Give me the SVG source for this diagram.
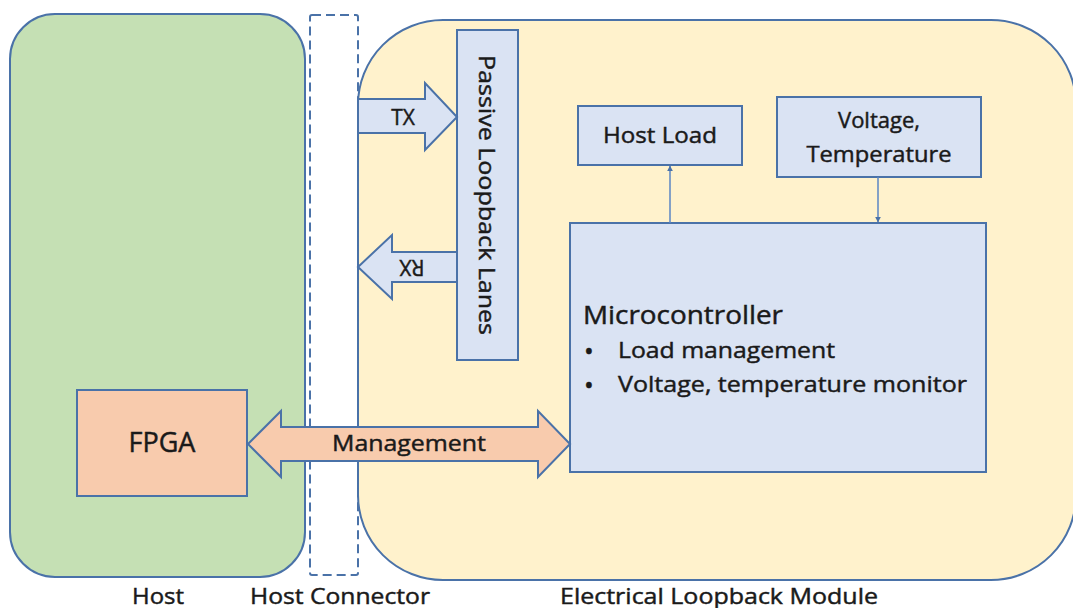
<svg xmlns="http://www.w3.org/2000/svg" width="1073" height="608" viewBox="0 0 1073 608">
<style>
.o{stroke:#4a72a8;stroke-width:2}
.blue{fill:#dae3f3}
.t{font-family:"Open Sans","Liberation Sans",sans-serif;fill:#1a1a1a;stroke:#1a1a1a;stroke-width:0.45}
.ln{stroke:#5b86c4;stroke-width:1.5;fill:none}
</style>
<defs>
<marker id="ah" viewBox="0 0 10 10" refX="9" refY="5" markerWidth="6" markerHeight="6" orient="auto-start-reverse" markerUnits="userSpaceOnUse">
<path d="M0,0L10,5L0,10z" fill="#4a72a8"/>
</marker>
</defs>
<rect width="1073" height="608" fill="#ffffff"/>
<g id="host">
<rect x="10" y="14" width="295" height="563" rx="45" fill="#c5e0b4" class="o"/>
</g>
<g id="module">
<rect x="358" y="20" width="718" height="560" rx="85" fill="#fff2cc" class="o"/>
</g>
<g id="host-connector">
<rect x="310" y="15" width="48" height="560" rx="2" fill="none" stroke="#4a72a8" stroke-width="2" stroke-dasharray="9,5"/>
</g>
<g id="passive-lanes">
<rect x="457" y="30" width="61" height="330" class="o blue"/>
<text class="t" font-size="22" transform="translate(479,195) rotate(90)" text-anchor="middle" textLength="280" lengthAdjust="spacingAndGlyphs">Passive Loopback Lanes</text>
</g>
<g id="tx">
<path d="M358,99H425V83L457,117L425,150V133H358Z" class="o blue"/>
<text class="t" font-size="21" x="403" y="125" text-anchor="middle">TX</text>
</g>
<g id="rx">
<path d="M457,252H392V235L358,267L392,299V282H457Z" class="o blue"/>
<text class="t" font-size="21" transform="translate(412,267) rotate(180)" text-anchor="middle" y="7.5">RX</text>
</g>
<g id="host-load">
<rect x="578" y="106" width="164" height="59" class="o blue"/>
<text class="t" font-size="22" x="660" y="143" text-anchor="middle" textLength="114" lengthAdjust="spacingAndGlyphs">Host Load</text>
</g>
<g id="voltage-temperature">
<rect x="777" y="97" width="204" height="80" class="o blue"/>
<text class="t" font-size="22" x="879" y="128" text-anchor="middle">Voltage,</text>
<text class="t" font-size="22" x="879" y="162" text-anchor="middle" textLength="145" lengthAdjust="spacingAndGlyphs">Temperature</text>
</g>
<g id="microcontroller">
<rect x="570" y="223" width="416" height="249" class="o blue"/>
<text class="t" font-size="25" x="583" y="324" textLength="200" lengthAdjust="spacingAndGlyphs">Microcontroller</text>
<text class="t" font-size="26" x="584" y="360">•</text>
<text class="t" font-size="22" x="618" y="358" textLength="217" lengthAdjust="spacingAndGlyphs">Load management</text>
<text class="t" font-size="26" x="584" y="394">•</text>
<text class="t" font-size="22" x="618" y="392" textLength="349" lengthAdjust="spacingAndGlyphs">Voltage, temperature monitor</text>
</g>
<g id="fpga">
<rect x="77" y="390" width="170" height="106" fill="#f8cbad" class="o"/>
<text class="t" font-size="27" x="162" y="452" text-anchor="middle">FPGA</text>
</g>
<g id="connectors">
<line x1="670" y1="223" x2="670" y2="166" class="ln" marker-end="url(#ah)"/>
<line x1="878" y1="177" x2="878" y2="222" class="ln" marker-end="url(#ah)"/>
<path d="M248,444L281,411V427H538V411L570,444L538,477V461H281V477Z" fill="#f8cbad" class="o"/>
<text class="t" font-size="22" x="409" y="451" text-anchor="middle" textLength="154" lengthAdjust="spacingAndGlyphs">Management</text>
</g>
<g id="labels">
<text class="t" font-size="22" x="158" y="604" text-anchor="middle" textLength="52" lengthAdjust="spacingAndGlyphs">Host</text>
<text class="t" font-size="22" x="340" y="604" text-anchor="middle" textLength="180" lengthAdjust="spacingAndGlyphs">Host Connector</text>
<text class="t" font-size="22" x="719" y="604" text-anchor="middle" textLength="318" lengthAdjust="spacingAndGlyphs">Electrical Loopback Module</text>
</g>
</svg>
